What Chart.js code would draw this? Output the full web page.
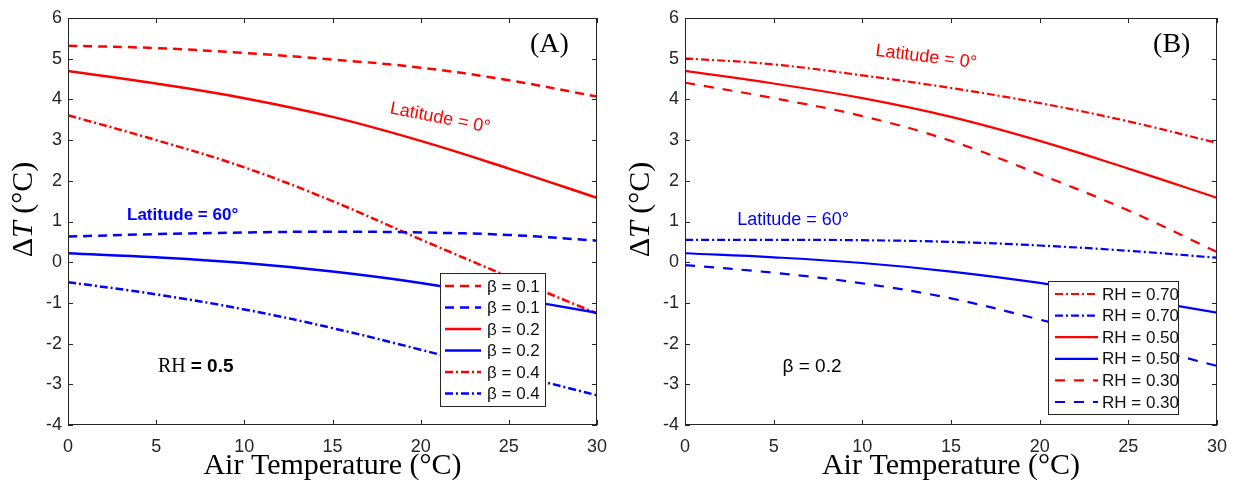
<!DOCTYPE html>
<html>
<head>
<meta charset="utf-8">
<script src="https://cdn.jsdelivr.net/npm/chart.js@4.4.1/dist/chart.umd.min.js"></script>
<style>
  html, body { margin: 0; padding: 0; background: #fff; }
  #wrap { position: relative; width: 1235px; height: 487px; }
  canvas { position: absolute; top: 0; }
  #chartA { left: 0; }
  #chartB { left: 617px; }
</style>
</head>
<body>
<div id="wrap">
  <canvas id="chartA" width="617" height="487"></canvas>
  <canvas id="chartB" width="618" height="487"></canvas>
</div>
<script>
// air temperature (°C) on the x axis
const airTemp = [0, 5, 10, 15, 20, 25, 30];

// panel A: RH = 0.5, varying beta
const beta01Lat0  = [5.32, 5.26, 5.14, 4.98, 4.78, 4.47, 4.07];
const beta01Lat60 = [0.63, 0.69, 0.73, 0.75, 0.73, 0.67, 0.53];
const beta02Lat0  = [4.70, 4.39, 4.03, 3.57, 2.98, 2.30, 1.58];
const beta02Lat60 = [0.22, 0.12, -0.02, -0.23, -0.51, -0.87, -1.24];
const beta04Lat0  = [3.61, 3.00, 2.33, 1.50, 0.56, -0.36, -1.26];
const beta04Lat60 = [-0.49, -0.79, -1.16, -1.62, -2.15, -2.72, -3.27];

// panel B: beta = 0.2, varying RH
const rh070Lat0  = [5.01, 4.86, 4.59, 4.28, 3.91, 3.46, 2.93];
const rh070Lat60 = [0.55, 0.55, 0.54, 0.50, 0.41, 0.28, 0.11];
const rh050Lat0  = [4.70, 4.39, 4.03, 3.57, 2.98, 2.30, 1.58];
const rh050Lat60 = [0.22, 0.12, -0.02, -0.23, -0.51, -0.87, -1.24];
const rh030Lat0  = [4.41, 4.03, 3.59, 2.98, 2.16, 1.27, 0.25];
const rh030Lat60 = [-0.07, -0.26, -0.52, -0.89, -1.41, -1.98, -2.55];

const legendA = ["β = 0.1", "β = 0.1", "β = 0.2", "β = 0.2", "β = 0.4", "β = 0.4"];
const legendB = ["RH = 0.70", "RH = 0.70", "RH = 0.50", "RH = 0.50", "RH = 0.30", "RH = 0.30"];

const RED = "#ff0000";
const BLUE = "#0000ff";
const AXIS = "#262626";
const SANS = "'Liberation Sans', Arial, sans-serif";
const SERIF = "'Liberation Serif', 'Times New Roman', serif";

function pts(vals) {
    return airTemp.map((t, i) => ({ x: t, y: vals[i] }));
}

function ds(label, vals, color, dash, width) {
    return {
        label: label,
        data: pts(vals),
        borderColor: color,
        backgroundColor: color,
        borderWidth: width,
        borderDash: dash,
        pointRadius: 0,
        fill: false,
        tension: 0.4
    };
}

// frame, inside ticks, legend box and the text notes
const decor = {
    id: "decor",
    afterDatasetsDraw(chart, args, o) {
        const ctx = chart.ctx;
        const a = chart.chartArea;
        const xs = chart.scales.x, ys = chart.scales.y;
        ctx.save();

        // box + ticks pointing in
        ctx.strokeStyle = AXIS;
        ctx.lineWidth = 1;
        ctx.setLineDash([]);
        ctx.strokeRect(a.left + 0.5, a.top + 0.5, a.right - a.left - 1, a.bottom - a.top - 1);
        ctx.beginPath();
        xs.ticks.forEach(t => {
            const px = Math.round(xs.getPixelForValue(t.value)) + 0.5;
            ctx.moveTo(px, a.bottom); ctx.lineTo(px, a.bottom - 5);
            ctx.moveTo(px, a.top); ctx.lineTo(px, a.top + 5);
        });
        ys.ticks.forEach(t => {
            const py = Math.round(ys.getPixelForValue(t.value)) + 0.5;
            ctx.moveTo(a.left, py); ctx.lineTo(a.left + 5, py);
            ctx.moveTo(a.right, py); ctx.lineTo(a.right - 5, py);
        });
        ctx.stroke();

        // legend
        const L = o.legend;
        const bx = a.right - L.right - L.width;
        const by = a.bottom - L.bottom - L.height;
        ctx.fillStyle = "#fff";
        ctx.fillRect(bx, by, L.width, L.height);
        ctx.strokeStyle = AXIS;
        ctx.strokeRect(bx + 0.5, by + 0.5, L.width, L.height);
        ctx.font = "17px " + SANS;
        ctx.textBaseline = "middle";
        ctx.textAlign = "left";
        chart.data.datasets.forEach((d, i) => {
            const ry = by + L.first + i * L.row;
            ctx.strokeStyle = d.borderColor;
            ctx.lineWidth = d.borderWidth;
            ctx.setLineDash(d.borderDash);
            ctx.beginPath();
            ctx.moveTo(bx + L.x1, ry);
            ctx.lineTo(bx + L.x2, ry);
            ctx.stroke();
            ctx.fillStyle = "#111";
            ctx.fillText(L.labels[i], bx + L.tx, ry + 1);
        });
        ctx.setLineDash([]);

        // notes placed in data coordinates
        o.notes.forEach(n => {
            const px = xs.getPixelForValue(n.x);
            const py = ys.getPixelForValue(n.y);
            ctx.save();
            ctx.translate(px, py);
            ctx.rotate((n.angle || 0) * Math.PI / 180);
            ctx.textBaseline = "middle";
            let total = 0;
            n.parts.forEach(p => { ctx.font = p.font; total += ctx.measureText(p.text).width; });
            let cx = n.align === "left" ? 0 : -total / 2;
            n.parts.forEach(p => {
                ctx.font = p.font;
                ctx.fillStyle = p.color;
                ctx.textAlign = "left";
                ctx.fillText(p.text, cx, 0);
                cx += ctx.measureText(p.text).width;
            });
            ctx.restore();
        });

        // axis titles
        ctx.fillStyle = "#000";
        ctx.textBaseline = "middle";
        ctx.textAlign = "center";
        ctx.font = "30px " + SERIF;
        ctx.fillText("Air Temperature (°C)", (a.left + a.right) / 2, 466);

        const yParts = [
            { text: "Δ", font: "30px " + SERIF },
            { text: "T", font: "italic 30px " + SERIF },
            { text: " (°C)", font: "30px " + SERIF }
        ];
        ctx.save();
        ctx.translate(o.yTitleX, (a.top + a.bottom) / 2 - 12);
        ctx.rotate(-Math.PI / 2);
        let w = 0;
        yParts.forEach(p => { ctx.font = p.font; w += ctx.measureText(p.text).width; });
        let cx = -w / 2;
        ctx.textAlign = "left";
        yParts.forEach(p => {
            ctx.font = p.font;
            ctx.fillText(p.text, cx, 0);
            cx += ctx.measureText(p.text).width;
        });
        ctx.restore();

        ctx.restore();
    }
};

function makeOptions(padRight, legend, notes) {
    return {
        responsive: false,
        animation: false,
        layout: { padding: { top: 18, right: padRight, left: 0, bottom: 0 } },
        plugins: {
            legend: { display: false },
            tooltip: { enabled: false },
            decor: { legend: legend, notes: notes, yTitleX: 24 }
        },
        scales: {
            x: {
                type: "linear",
                min: 0,
                max: 30,
                ticks: { stepSize: 5, color: AXIS, font: { family: SANS, size: 18 }, padding: 11 },
                grid: { display: false, drawTicks: false },
                border: { display: false },
                afterFit(s) { s.height = 62; s.paddingLeft = 0; s.paddingRight = 0; }
            },
            y: {
                min: -4,
                max: 6,
                ticks: { stepSize: 1, color: AXIS, font: { family: SANS, size: 18 }, padding: 6 },
                grid: { display: false, drawTicks: false },
                border: { display: false },
                afterFit(s) { s.width = 68; s.paddingTop = 0; s.paddingBottom = 0; }
            }
        }
    };
}

new Chart(document.getElementById("chartA").getContext("2d"), {
    type: "line",
    data: {
        datasets: [
            ds(legendA[0], beta01Lat0, RED, [9, 6], 2.5),
            ds(legendA[1], beta01Lat60, BLUE, [9, 6], 2.5),
            ds(legendA[2], beta02Lat0, RED, [], 2.5),
            ds(legendA[3], beta02Lat60, BLUE, [], 2.5),
            ds(legendA[4], beta04Lat0, RED, [8, 3, 2, 3], 2.5),
            ds(legendA[5], beta04Lat60, BLUE, [8, 3, 2, 3], 2.5)
        ]
    },
    options: makeOptions(20,
        { labels: legendA, width: 105, height: 133, right: 52, bottom: 19,
          first: 13, row: 21.5, x1: 5, x2: 41, tx: 47 },
        [
            { x: 27.3, y: 5.34, parts: [{ text: "(A)", font: "28px " + SERIF, color: "#000" }] },
            { x: 21.1, y: 3.54, angle: 11, parts: [{ text: "Latitude = 0°", font: "18px " + SANS, color: RED }] },
            { x: 6.5, y: 1.16, parts: [{ text: "Latitude = 60°", font: "bold 17px " + SANS, color: BLUE }] },
            { x: 5.1, y: -2.57, align: "left", parts: [
                { text: "RH ", font: "20px " + SERIF, color: "#000" },
                { text: "= 0.5", font: "bold 19px " + SANS, color: "#000" }
            ] }
        ]),
    plugins: [decor]
});

new Chart(document.getElementById("chartB").getContext("2d"), {
    type: "line",
    data: {
        datasets: [
            ds(legendB[0], rh070Lat0, RED, [8, 3, 2, 3], 2.2),
            ds(legendB[1], rh070Lat60, BLUE, [8, 3, 2, 3], 2.2),
            ds(legendB[2], rh050Lat0, RED, [], 2.2),
            ds(legendB[3], rh050Lat60, BLUE, [], 2.2),
            ds(legendB[4], rh030Lat0, RED, [10, 9], 2.2),
            ds(legendB[5], rh030Lat60, BLUE, [10, 9], 2.2)
        ]
    },
    options: makeOptions(18,
        { labels: legendB, width: 130, height: 133, right: 39, bottom: 11,
          first: 13, row: 21.6, x1: 7, x2: 50, tx: 54 },
        [
            { x: 27.45, y: 5.34, parts: [{ text: "(B)", font: "28px " + SERIF, color: "#000" }] },
            { x: 13.6, y: 5.04, angle: 7, parts: [{ text: "Latitude = 0°", font: "18px " + SANS, color: RED }] },
            { x: 6.1, y: 1.04, parts: [{ text: "Latitude = 60°", font: "18px " + SANS, color: BLUE }] },
            { x: 5.5, y: -2.57, align: "left", parts: [{ text: "β = 0.2", font: "19px " + SANS, color: "#000" }] }
        ]),
    plugins: [decor]
});
</script>
</body>
</html>
